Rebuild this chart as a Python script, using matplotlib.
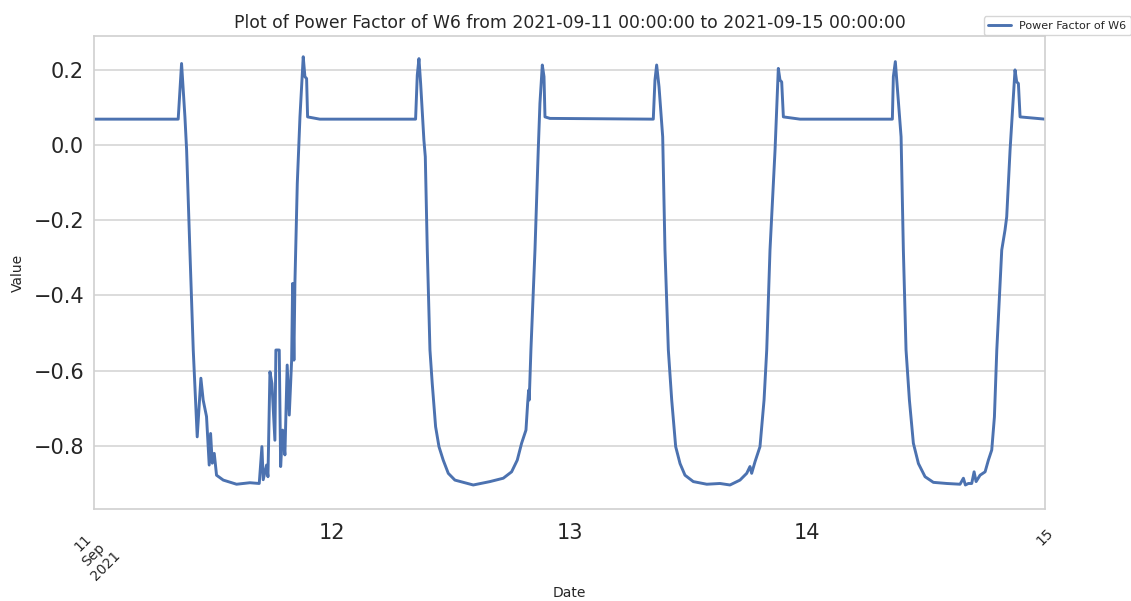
import matplotlib
matplotlib.use("Agg")
import matplotlib.pyplot as plt
import pandas as pd
import seaborn as sns

sns.set_style("whitegrid")

# Hours since 2021-09-11 00:00 and the power factor
hours = [0.0, 8.51, 8.85, 9.19, 9.36, 9.69, 10.03, 10.43, 10.8, 11.03, 11.37, 11.64, 11.78,
         11.95, 12.15, 12.38, 13.06, 14.4, 15.75, 16.69, 16.96, 17.09, 17.43, 17.57, 17.77,
         17.97, 18.27, 18.37, 18.71, 18.85, 19.05, 19.28, 19.51, 19.72, 19.96, 20.06, 20.19,
         20.29, 20.53, 20.8, 21.13, 21.3, 21.47, 21.57, 22.8,
         32.47, 32.64, 32.81, 32.98, 33.31, 33.45, 33.65, 33.92, 34.15, 34.49, 34.83, 35.26,
         35.77, 36.44, 38.29, 39.97, 41.32, 42.16, 42.73, 43.17, 43.61, 43.78, 43.88, 43.94,
         44.11, 44.52, 44.85, 45.02, 45.26, 45.43, 45.53, 46.03,
         56.46, 56.63, 56.8, 57.04, 57.41, 57.64, 57.98, 58.32, 58.72, 59.16, 59.66, 60.5,
         61.86, 63.19, 64.2, 65.21, 65.89, 66.22, 66.39, 66.73, 67.23, 67.64, 67.91, 68.24,
         68.58, 68.75, 69.08, 69.25, 69.42, 69.59, 71.27,
         80.59, 80.69, 80.89, 81.13, 81.47, 81.7, 81.97, 82.31, 82.71, 83.22, 83.89, 84.73,
         86.08, 87.42, 87.76, 87.96, 88.26, 88.6, 88.84, 89.04, 89.44, 89.95, 90.28, 90.62,
         90.89, 91.13, 91.46, 91.63, 91.96, 92.13, 92.47, 92.97, 93.14, 93.31, 93.48, 96.0]
power_factor = [0.069, 0.069, 0.217, 0.075, -0.013, -0.28, -0.545, -0.776, -0.62, -0.678, -0.722,
                -0.851, -0.767, -0.846, -0.82, -0.878, -0.891, -0.902, -0.898, -0.9, -0.802,
                -0.89, -0.851, -0.882, -0.603, -0.634, -0.785, -0.545, -0.545, -0.855, -0.758,
                -0.824, -0.585, -0.718, -0.572, -0.368, -0.572, -0.368, -0.102, 0.075, 0.235,
                0.182, 0.177, 0.075, 0.069,
                0.069, 0.186, 0.23, 0.164, 0.013, -0.031, -0.279, -0.545, -0.634, -0.749, -0.802,
                -0.838, -0.873, -0.891, -0.904, -0.895, -0.886, -0.869, -0.838, -0.793, -0.758,
                -0.687, -0.652, -0.678, -0.545, -0.279, -0.013, 0.111, 0.213, 0.182, 0.075, 0.071,
                0.069, 0.173, 0.213, 0.155, 0.022, -0.279, -0.545, -0.678, -0.802, -0.847, -0.878,
                -0.895, -0.902, -0.9, -0.904, -0.891, -0.873, -0.855, -0.873, -0.842, -0.802,
                -0.678, -0.545, -0.279, -0.102, -0.013, 0.204, 0.173, 0.168, 0.075, 0.069,
                0.069, 0.182, 0.222, 0.138, 0.022, -0.279, -0.545, -0.678, -0.793, -0.847, -0.882,
                -0.897, -0.9, -0.902, -0.886, -0.904, -0.9, -0.9, -0.869, -0.895, -0.878, -0.869,
                -0.838, -0.811, -0.723, -0.545, -0.368, -0.279, -0.226, -0.191, -0.013, 0.2,
                0.168, 0.164, 0.075, 0.069]

start = "2021-09-11 00:00:00"
end = "2021-09-15 00:00:00"
series_name = "Power Factor of W6"
major_labels = ["11\nSep\n2021", "15"]
minor_labels = ["12", "13", "14"]

times = pd.Timestamp(start) + pd.to_timedelta(hours, unit="h")

fig = plt.figure(figsize=(11.31, 6.01), dpi=100)
ax = fig.add_axes([0.083, 0.153, 0.841, 0.787])
ax.plot(times, power_factor, color="#4C72B0", linewidth=2.1, label=series_name)

ax.set_xlim(pd.Timestamp(start), pd.Timestamp(end))
ax.set_ylim(-0.968, 0.29)
ax.set_yticks([-0.8, -0.6, -0.4, -0.2, 0.0, 0.2])
ax.tick_params(axis="y", labelsize=15)

major_pos = [pd.Timestamp(start), pd.Timestamp(end)]
minor_pos = pd.date_range(pd.Timestamp(start) + pd.Timedelta(days=1), periods=3, freq="D")
ax.set_xticks(major_pos)
ax.set_xticklabels(major_labels, rotation=45, fontsize=10)
ax.set_xticks(minor_pos, minor=True)
ax.set_xticklabels(minor_labels, minor=True, fontsize=15)
ax.tick_params(axis="x", which="major", length=0, pad=12)
ax.tick_params(axis="x", which="minor", length=0, pad=10)
ax.grid(axis="x", visible=False)
ax.grid(axis="y", which="major", color="#d5d5d5", linewidth=1.2)
ax.grid(axis="x", which="minor", visible=False)

for s in ax.spines.values():
    s.set_color("#d0d0d0")
    s.set_linewidth(1.2)

ax.set_title(f"Plot of Power Factor of W6 from {start} to {end}", fontsize=12.4)
ax.set_xlabel("Date", fontsize=10, labelpad=2)
ax.set_ylabel("Value", fontsize=10, labelpad=6)

ax.legend(loc="upper left", bbox_to_anchor=(0.865, 0.982), bbox_transform=fig.transFigure,
          fontsize=8, frameon=True)

fig.savefig("out.png", dpi=100)
